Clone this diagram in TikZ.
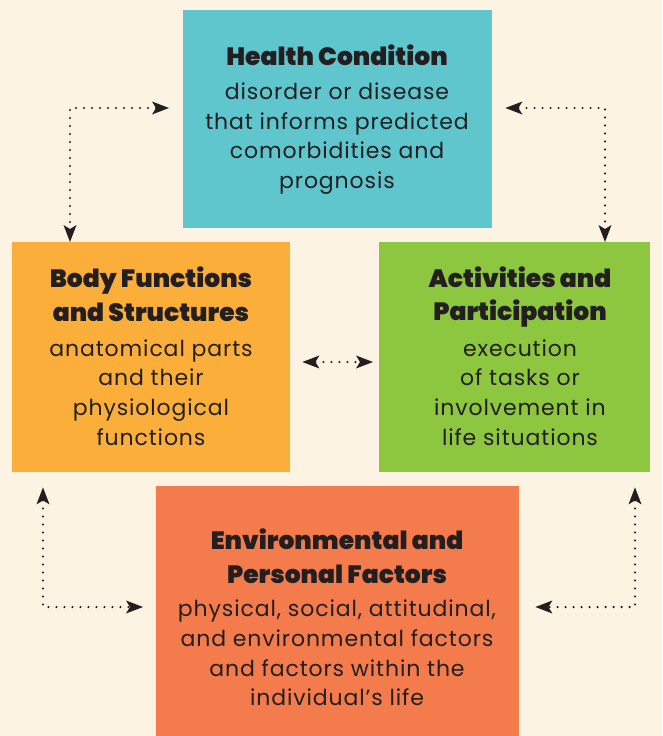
\documentclass[tikz,border=0pt]{standalone}
\usepackage{fontspec}
\setmainfont{Poppins}[LetterSpace=4]
\newfontfamily\headfont{Poppins Black}
\usetikzlibrary{arrows.meta,calc}
\definecolor{bg}{HTML}{FDF3E3}
\definecolor{hc}{HTML}{5FC6CE}
\definecolor{bf}{HTML}{FBAF3A}
\definecolor{ap}{HTML}{8DC63F}
\definecolor{ep}{HTML}{F47B4B}
\definecolor{ink}{HTML}{231F20}
\tikzset{
  box/.style={draw=none, rectangle, inner sep=0pt, anchor=north west},
  head/.style={text=ink, align=center, font=\headfont\fontsize{25}{33.5}\selectfont, inner sep=0pt},
  body/.style={text=ink, align=center, font=\fontsize{22}{29.7}\selectfont, inner sep=0pt},
  link/.style={ink, line width=2.3pt, dash pattern=on 0pt off 8pt, line cap=round,
    {Stealth[length=17pt,width=13pt,inset=4pt,line width=0pt]}-{Stealth[length=17pt,width=13pt,inset=4pt,line width=0pt]}},
}
\begin{document}
\begin{tikzpicture}[x=1pt,y=-1pt]
\fill[bg] (0,0) rectangle (662,736);
\useasboundingbox (0,0) rectangle (662,736);
\node[box, fill=hc, minimum width=309pt, minimum height=218pt] (hcbox) at (183,10) {};
\node[box, fill=bf, minimum width=278pt, minimum height=230pt] (bfbox) at (12,242) {};
\node[box, fill=ap, minimum width=271pt, minimum height=230pt] (apbox) at (379,242) {};
\node[box, fill=ep, minimum width=363pt, minimum height=250pt] (epbox) at (156,486) {};

\node[head] (hch) at (337,55) {Health Condition};
\node[body] (hct) at (337,138.5) {disorder or disease\\that informs predicted\\comorbidities and\\prognosis};

\node[head] (bfh) at (151,294) {Body Functions\\and Structures};
\node[body] (bft) at (151,392.5) {anatomical parts\\and their\\physiological\\functions};

\node[head] (aph) at (520,297) {Activities and\\Participation};
\node[body] (apt) at (520,392.5) {execution\\of tasks or\\involvement in\\life situations};

\node[head] (eph) at (337,556) {Environmental and\\Personal Factors};
\node[body] (ept) at (337,653) {physical, social, attitudinal,\\and environmental factors\\and factors within the\\individual’s life};

\coordinate (c1) at (70,108);
\coordinate (c2) at (605,108);
\coordinate (c3) at (43,607);
\coordinate (c4) at (635,607);
\coordinate (mid) at (0,362);

\draw[link] ($(hcbox.west |- c1)+(-14,0)$) -- (c1) -- (c1 |- bfbox.north);
\draw[link] ($(hcbox.east |- c2)+(13,0)$) -- (c2) -- (c2 |- apbox.north);
\draw[link] ($(bfbox.east |- mid)+(12,0)$) -- ($(apbox.west |- mid)+(-6,0)$);
\draw[link] ($(c3 |- bfbox.south)+(0,15)$) -- (c3) -- ($(epbox.west |- c3)+(-13,0)$);
\draw[link] ($(c4 |- apbox.south)+(0,15)$) -- (c4) -- ($(epbox.east |- c4)+(16,0)$);
\end{tikzpicture}
\end{document}
